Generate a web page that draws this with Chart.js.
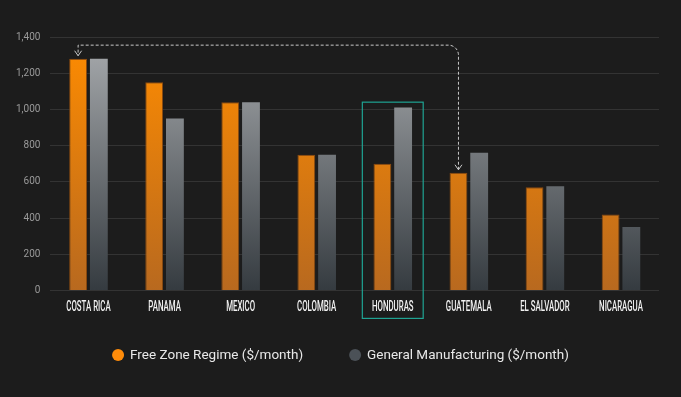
<!DOCTYPE html>
<html>
<head>
<meta charset="utf-8">
<script src="https://cdn.jsdelivr.net/npm/chart.js@4.4.1/dist/chart.umd.min.js"></script>
<style>
  html, body { margin: 0; padding: 0; background: #1c1c1c; }
  #wrap { width: 681px; height: 397px; }
</style>
</head>
<body>
<div id="wrap"><canvas id="chart"></canvas></div>
<script>
// data
const countries = ['COSTA RICA', 'PANAMA', 'MEXICO', 'COLOMBIA', 'HONDURAS', 'GUATEMALA', 'EL SALVADOR', 'NICARAGUA'];
const freeZone = [1280, 1150, 1040, 750, 700, 650, 570, 420];
const generalMfg = [1280, 950, 1040, 750, 1010, 760, 575, 350];
const seriesNames = ['Free Zone Regime ($/month)', 'General Manufacturing ($/month)'];
const legendColors = ['#ff8c0a', '#4b5157'];
const highlightIndex = 4;   // Honduras box
const arrowFrom = 5;        // Guatemala
const arrowTo = 0;          // Costa Rica

function vGradient(ctx, area, top, bottom) {
    const g = ctx.createLinearGradient(0, area.top, 0, area.bottom);
    g.addColorStop(0, top);
    g.addColorStop(1, bottom);
    return g;
}

const bgPlugin = {
    id: 'bg',
    beforeDraw(chart) {
        const ctx = chart.ctx;
        ctx.save();
        ctx.fillStyle = '#1c1c1c';
        ctx.fillRect(0, 0, chart.width, chart.height);
        ctx.restore();
    }
};

// condensed x labels (no condensed font installed, so squeeze Roboto)
const xLabelPlugin = {
    id: 'xLabels',
    afterDraw(chart) {
        const ctx = chart.ctx;
        const x = chart.scales.x;
        const yPos = chart.chartArea.bottom + 17;
        ctx.save();
        ctx.fillStyle = '#f2f2f2';
        ctx.font = '500 14px Roboto';
        ctx.textAlign = 'center';
        ctx.textBaseline = 'middle';
        countries.forEach((c, i) => {
            ctx.save();
            ctx.translate(x.getPixelForValue(i), yPos);
            ctx.scale(0.56, 1);
            ctx.fillText(c, 0, 0);
            ctx.restore();
        });
        ctx.restore();
    }
};

// legend drawn by hand so the gap between items can be wide
const legendPlugin = {
    id: 'customLegend',
    afterDraw(chart) {
        const ctx = chart.ctx;
        const r = 6, gapText = 6, gapItem = 46;
        const yPos = 355;
        ctx.save();
        ctx.font = '13.5px Roboto';
        ctx.textBaseline = 'middle';
        const widths = seriesNames.map(s => 2 * r + gapText + ctx.measureText(s).width);
        const total = widths.reduce((a, b) => a + b, 0) + gapItem * (widths.length - 1);
        let xPos = (chart.width - total) / 2;
        seriesNames.forEach((s, i) => {
            ctx.fillStyle = legendColors[i];
            ctx.beginPath();
            ctx.arc(xPos + r, yPos, r, 0, Math.PI * 2);
            ctx.fill();
            ctx.fillStyle = '#e8e8e8';
            ctx.fillText(s, xPos + 2 * r + gapText, yPos + 0.5);
            xPos += widths[i] + gapItem;
        });
        ctx.restore();
    }
};

// teal box round Honduras and dashed arrow Guatemala -> Costa Rica
const notesPlugin = {
    id: 'notes',
    afterDatasetsDraw(chart) {
        const ctx = chart.ctx;
        const x = chart.scales.x, y = chart.scales.y;
        const area = chart.chartArea;
        const catW = (area.right - area.left) / countries.length;

        // box
        const cx = x.getPixelForValue(highlightIndex);
        const top = y.getPixelForValue(Math.max(freeZone[highlightIndex], generalMfg[highlightIndex]) + 30);
        ctx.save();
        ctx.strokeStyle = '#1fa393';
        ctx.lineWidth = 1.2;
        ctx.strokeRect(cx - catW * 0.4, top, catW * 0.8, area.bottom + 28 - top);
        ctx.restore();

        // arrow
        const meta = chart.getDatasetMeta(0);
        const a = meta.data[arrowFrom], b = meta.data[arrowTo];
        const lineY = y.getPixelForValue(1355);
        const r = 10;
        ctx.save();
        ctx.strokeStyle = '#c8c8c8';
        ctx.lineWidth = 1;
        ctx.setLineDash([3, 2]);
        ctx.beginPath();
        ctx.moveTo(a.x, a.y - 3);
        ctx.lineTo(a.x, lineY + r);
        ctx.arcTo(a.x, lineY, a.x - r, lineY, r);
        ctx.lineTo(b.x, lineY);
        ctx.lineTo(b.x, b.y - 3);
        ctx.stroke();
        ctx.setLineDash([]);
        [a, b].forEach(p => {
            ctx.beginPath();
            ctx.moveTo(p.x - 3.5, p.y - 8);
            ctx.lineTo(p.x, p.y - 3);
            ctx.lineTo(p.x + 3.5, p.y - 8);
            ctx.stroke();
        });
        ctx.restore();
    }
};

const ctx = document.getElementById('chart').getContext('2d');
new Chart(ctx, {
    type: 'bar',
    data: {
        labels: countries,
        datasets: [{
            label: seriesNames[0],
            data: freeZone,
            backgroundColor: c => c.chart.chartArea ? vGradient(c.chart.ctx, c.chart.chartArea, '#ff8c00', '#b8691f') : '#ff8c00',
            borderColor: '#8a4a10',
            borderWidth: 1,
            categoryPercentage: 0.545,
            barPercentage: 0.86
        }, {
            label: seriesNames[1],
            data: generalMfg,
            backgroundColor: c => c.chart.chartArea ? vGradient(c.chart.ctx, c.chart.chartArea, '#a9acaf', '#353b40') : '#6c7176',
            borderWidth: 0,
            categoryPercentage: 0.545,
            barPercentage: 0.86
        }]
    },
    options: {
        responsive: true,
        maintainAspectRatio: false,
        animation: false,
        layout: { padding: { top: 37, left: 6, right: 22, bottom: 65 } },
        scales: {
            x: {
                grid: { display: false },
                border: { display: false },
                ticks: {
                    color: 'rgba(0,0,0,0)',
                    maxRotation: 0,
                    autoSkip: false,
                    padding: 9,
                    font: { family: 'Roboto', size: 13 }
                }
            },
            y: {
                min: 0,
                max: 1400,
                border: { display: false },
                grid: { color: 'rgba(255,255,255,0.1)', drawTicks: false },
                ticks: {
                    stepSize: 200,
                    color: '#9a9a9a',
                    padding: 10,
                    font: { family: 'Roboto', size: 10 },
                    callback: v => v.toLocaleString('en-US')
                }
            }
        },
        plugins: {
            legend: { display: false },
            tooltip: { enabled: false }
        }
    },
    plugins: [bgPlugin, notesPlugin, xLabelPlugin, legendPlugin]
});
</script>
</body>
</html>
